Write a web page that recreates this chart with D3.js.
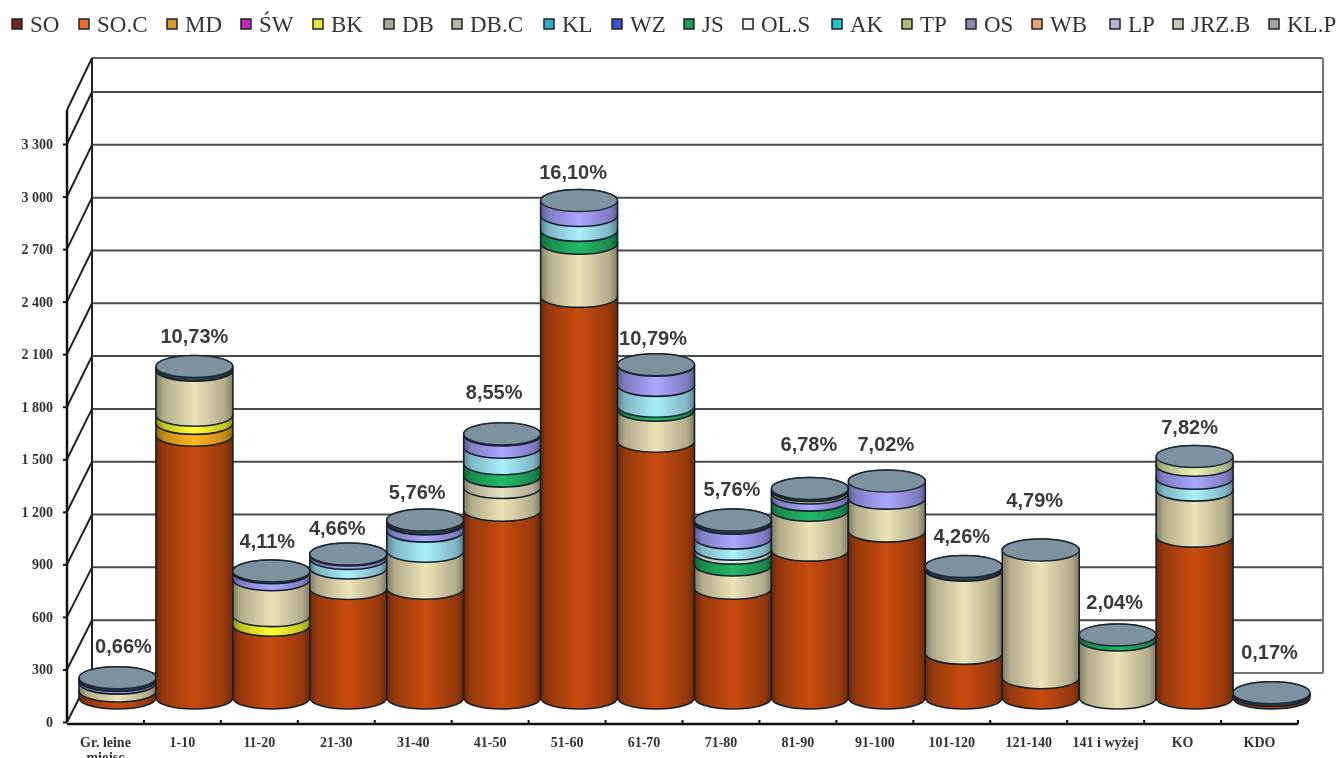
<!DOCTYPE html>
<html><head><meta charset="utf-8">
<script src="https://cdnjs.cloudflare.com/ajax/libs/d3/7.8.5/d3.min.js"></script>
<style>html,body{margin:0;padding:0;background:#fff;overflow:hidden}svg{display:block;filter:blur(0.45px)}</style>
</head><body><div id="c"></div>
<script>
const categories=["Gr. leine","1-10","11-20","21-30","31-40","41-50","51-60","61-70","71-80","81-90","91-100","101-120","121-140","141 i wyżej","KO","KDO"];
const seriesNames=["SO","SO.C","MD","ŚW","BK","DB","DB.C","KL","WZ","JS","OL.S","AK","TP","OS","WB","LP","JRZ.B","KL.P"];
const SO   =[40,1500,415,625,627,1072,2293,1466,627,844,953,255,116,0,924,15];
const SO_C =[0,0,0,0,0,0,0,0,0,0,0,0,0,0,0,0];
const MD   =[0,68,0,0,0,0,0,0,0,0,0,0,0,0,0,0];
const SW   =[0,0,0,0,0,0,0,0,0,0,0,0,0,0,0,0];
const BK   =[0,46,55,0,0,0,0,0,0,0,0,0,0,0,0,0];
const DB   =[45,257,205,117,211,130,303,177,132,228,188,475,729,331,263,0];
const DB_C =[0,0,0,0,0,65,0,0,0,0,0,0,0,0,0,0];
const KL   =[0,0,0,0,0,0,0,0,0,0,0,0,0,0,0,0];
const WZ   =[0,0,0,0,0,0,0,0,0,0,0,0,0,0,0,0];
const JS   =[0,0,0,0,0,70,74,23,68,58,0,0,0,29,0,0];
const OL_S =[0,0,0,0,0,0,0,0,23,0,0,0,0,0,0,0];
const AK   =[0,0,0,55,115,95,85,119,63,0,0,0,0,0,68,0];
const TP   =[0,0,0,0,0,0,0,0,0,0,0,0,0,0,0,0];
const OS   =[0,0,0,0,0,0,0,0,0,0,0,0,0,0,0,0];
const WB   =[0,0,0,0,0,0,0,0,0,0,0,0,0,0,0,0];
const LP   =[15,0,40,20,40,70,85,115,85,40,97,0,0,0,74,0];
const JRZ_B=[0,0,0,0,0,0,0,0,0,14,0,0,0,0,50,0];
const KL_P =[16,22,10,5,23,6,0,3,18,12,0,21,0,0,0,15];
const seriesValues=[SO,SO_C,MD,SW,BK,DB,DB_C,KL,WZ,JS,OL_S,AK,TP,OS,WB,LP,JRZ_B,KL_P];
const percentLabels=["0,66%","10,73%","4,11%","4,66%","5,76%","8,55%","16,10%","10,79%","5,76%","6,78%","7,02%","4,26%","4,79%","2,04%","7,82%","0,17%"];
const yTicks=[0,300,600,900,1200,1500,1800,2100,2400,2700,3000,3300];
const tickLabels=["0","300","600","900","1 200","1 500","1 800","2 100","2 400","2 700","3 000","3 300"];

// legend swatch colours, and the shaded colours of the cylinder sides
const legendColors=["#6e2a1a","#e0702a","#dc962e","#c428c0","#e6e23a","#a9aa96","#b5b6a4","#2fb0c8","#3c50c8","#1f9a55","#f4f6f2","#20c4c4","#a8ba78","#8a8aa2","#eda070","#b8b8d4","#c8cbb0","#a4a4a4"];
const sideColors=["#b4440e","#e0702a","#eaa41e","#c428c0","#ece82c","#d4cca4","#d0ccae","#58b8d8","#3c50c8","#1fa65c","#d8d8d0","#98d8ea","#a8ba78","#8a8aa2","#eda070","#9a96e8","#d0dba0","#2c3a46"];
const legendCentre=[17,84,172,246,318,389,457,549,617,689,748,837,907,971,1037,1115,1178,1274];
const labelDx=[6,0,-4,-11,-8,-8,-6,-3,-1,-1,-1,-2,-6,-3,-5,-2];
const labelLift=[32,30,30,26,28,42,29,27,31,45,37,30,50,33,29,41];

const W=1339,H=758;
const svg=d3.select("#c").append("svg").attr("width",W).attr("height",H);
const defs=svg.append("defs");
sideColors.forEach((c,i)=>{
  const g=defs.append("linearGradient").attr("id","g"+i);
  const base=d3.color(c);
  [[0,base.darker(1.4)],[0.1,base.darker(0.5)],[0.5,base.brighter(0.3)],[0.9,base.darker(0.5)],[1,base.darker(1.4)]]
    .forEach(([o,col])=>g.append("stop").attr("offset",o).attr("stop-color",col));
});

const x=d3.scaleBand().domain(categories).range([67,1298]).paddingInner(0).paddingOuter(0);
const y=d3.scaleLinear().domain([0,3300]).range([722,144]);
const yBack=d3.scaleLinear().domain([0,3300]).range([673,92]);
const barDx=12,barDy=24,ry=11;
const rx=x.bandwidth()/2;

// walls
const wall=svg.append("g").attr("fill","none");
wall.selectAll("line.grid").data(yTicks.slice(1)).join("line")
  .attr("x1",92).attr("x2",1323)
  .attr("y1",d=>yBack(d)).attr("y2",d=>yBack(d))
  .attr("stroke","#4a4a4a").attr("stroke-width",2);
wall.append("line").attr("x1",92).attr("x2",1323).attr("y1",58).attr("y2",58).attr("stroke","#666").attr("stroke-width",2);
wall.append("line").attr("x1",92).attr("x2",1323).attr("y1",yBack(0)).attr("y2",yBack(0)).attr("stroke","#777").attr("stroke-width",2);
wall.append("line").attr("x1",1323).attr("x2",1323).attr("y1",58).attr("y2",yBack(0)).attr("stroke","#777").attr("stroke-width",2);
wall.append("line").attr("x1",92).attr("x2",92).attr("y1",58).attr("y2",yBack(0)).attr("stroke","#222").attr("stroke-width",2);
wall.selectAll("line.diag").data(yTicks).join("line")
  .attr("x1",67).attr("x2",92)
  .attr("y1",d=>y(d)).attr("y2",d=>yBack(d))
  .attr("stroke","#222").attr("stroke-width",2);
wall.append("line").attr("x1",67).attr("x2",92).attr("y1",110).attr("y2",58).attr("stroke","#222").attr("stroke-width",2);

// axes
const axisFont="'Liberation Serif',serif";
const yAxis=d3.axisLeft(y).tickValues(yTicks).tickSize(4).tickFormat((d,i)=>tickLabels[i]);
const gy=svg.append("g").attr("transform","translate(67,0)").call(yAxis);
gy.select(".domain").attr("stroke","#111").attr("stroke-width",2.5).attr("d","M0,722V110");
gy.selectAll("line").attr("stroke","#111").attr("stroke-width",2);
gy.selectAll("text").attr("x",-14).style("font",`bold 14px ${axisFont}`).attr("fill","#333");

const xAxis=d3.axisBottom(x).tickSize(0).tickPadding(0).tickFormat("");
const gx=svg.append("g").attr("transform","translate(0,724)").call(xAxis);
gx.select(".domain").attr("stroke","#111").attr("stroke-width",2.5).attr("d","M67,0H1298");
svg.append("g").selectAll("line").data(categories).join("line")
  .attr("x1",d=>x(d)+x.bandwidth()).attr("x2",d=>x(d)+x.bandwidth())
  .attr("y1",724).attr("y2",720).attr("stroke","#111").attr("stroke-width",2);
svg.append("g").selectAll("text").data(categories).join("text")
  .attr("x",d=>x(d)+x.bandwidth()/2).attr("y",747).attr("text-anchor","middle")
  .style("font",`bold 14px ${axisFont}`).attr("fill","#333").text(d=>d);
svg.append("text").attr("x",x(categories[0])+x.bandwidth()/2).attr("y",762).attr("text-anchor","middle")
  .style("font",`bold 14px ${axisFont}`).attr("fill","#333").text("miejsc");

// cylinders
const bars=svg.append("g");
categories.forEach((cat,ci)=>{
  const cx=x(cat)+x.bandwidth()/2+barDx;
  const g=bars.append("g");
  const L=cx-rx,R=cx+rx;
  let cum=0;
  seriesValues.forEach((vals,si)=>{
    const v=vals[ci];
    if(!v) return;
    const y0=y(cum)-barDy, y1=y(cum+v)-barDy;
    const A=`${rx} ${ry} 0 0 0`;
    g.append("path")
      .attr("d",`M${L},${y1}L${L},${y0}A${A} ${R},${y0}L${R},${y1}A${A} ${L},${y1}Z`)
      .attr("fill",`url(#g${si})`).attr("stroke","#14202a").attr("stroke-width",1.6);
    cum+=v;
  });
  g.append("ellipse").attr("cx",cx).attr("cy",y(cum)-barDy).attr("rx",rx).attr("ry",ry)
    .attr("fill","#7e919f").attr("stroke","#1c2a34").attr("stroke-width",1.4);
  svg.append("text").attr("x",cx+labelDx[ci]).attr("y",y(cum)-barDy-labelLift[ci]+7)
    .attr("text-anchor","middle").style("font","bold 20px 'Liberation Sans',Arial,sans-serif")
    .attr("fill","#3a3a3a").text(percentLabels[ci]);
});

// legend
const lg=svg.append("g");
seriesNames.forEach((n,i)=>{
  lg.append("rect").attr("x",legendCentre[i]-5).attr("y",19).attr("width",10).attr("height",10)
    .attr("fill",legendColors[i]).attr("stroke","#222").attr("stroke-width",1.5);
  lg.append("text").attr("x",legendCentre[i]+13).attr("y",32)
    .style("font",`23px ${axisFont}`).attr("fill","#333").text(n);
});
</script></body></html>
